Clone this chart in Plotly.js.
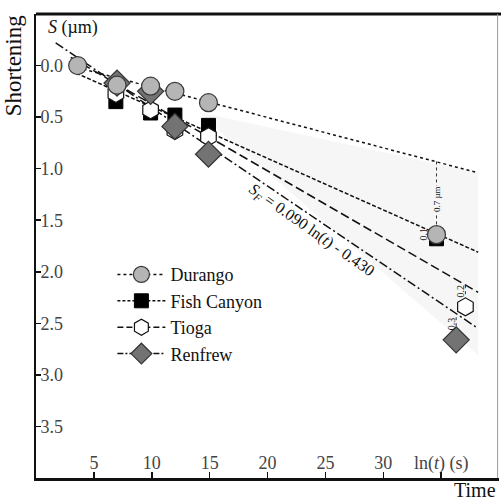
<!DOCTYPE html>
<html>
<head>
<meta charset="utf-8">
<script src="https://cdn.plot.ly/plotly-3.0.1.min.js"></script>
<style>
  html, body { margin: 0; padding: 0; background: #fff; }
  #chart { width: 501px; height: 502px; }
</style>
</head>
<body>
<div id="chart"></div>
<script>
// Shortening S (µm) versus ln(t) for four apatite samples
const durangoX = [3.6, 7.0, 9.9, 12.0, 14.9, 34.6];
const durangoY = [0.0, 0.19, 0.20, 0.25, 0.36, 1.64];
const fishX = [6.9, 9.9, 12.0, 14.9, 34.6];
const fishY = [0.35, 0.46, 0.48, 0.58, 1.68];
const tiogaX = [6.9, 9.9, 12.0, 14.9, 37.1];
const tiogaY = [0.27, 0.43, 0.63, 0.69, 2.34];
const renfrewX = [7.0, 9.9, 12.0, 14.9, 36.3];
const renfrewY = [0.17, 0.25, 0.59, 0.86, 2.66];

// Fitted trend lines (end points)
const durangoFitX = [3.6, 38.2], durangoFitY = [0.02, 1.04];
const fishFitX = [3.0, 38.2], fishFitY = [0.05, 1.81];
const tiogaFitX = [3.0, 38.2], tiogaFitY = [-0.08, 2.20];
const renfrewFitX = [1.7, 38.2], renfrewFitY = [-0.22, 2.55];

// Envelope of the extrapolated trends
const bandX = [14.0, 38.2, 38.2, 14.0];
const bandY = [0.45, 1.04, 2.81, 0.45];

// Offsets between the extrapolated trend and the long-time measurement
const offsetX = [34.6, 37.1, 36.3];
const offsetFrom = [0.93, 2.13, 2.44];
const offsetTo = [1.56, 2.25, 2.58];

const xTickVals = [5, 10, 15, 20, 25, 30, 35];
const xTickText = ['5', '10', '15', '20', '25', '30', 'ln(<i>t</i>) (s)'];
const yTickVals = [0, 0.5, 1, 1.5, 2, 2.5, 3, 3.5];

const FONT = 'Liberation Serif, Times New Roman, serif';
const BAND = '#f6f6f6';

const traces = [];
traces.push({x: bandX, y: bandY, mode: 'lines', fill: 'toself', fillcolor: BAND,
  line: {width: 0}, hoverinfo: 'skip', showlegend: false});

const lineStyle = [
  [durangoFitX, durangoFitY, 'dot'],
  [fishFitX, fishFitY, '4px,2px'],
  [tiogaFitX, tiogaFitY, '9px,4px'],
  [renfrewFitX, renfrewFitY, '9px,3px,2px,3px']
];
lineStyle.forEach(([x, y, d]) => traces.push({x, y, mode: 'lines',
  line: {color: '#111', width: 1.5, dash: d}, showlegend: false, hoverinfo: 'skip'}));

offsetX.forEach((x, i) => traces.push({x: [x, x], y: [offsetFrom[i], offsetTo[i]], mode: 'lines',
  line: {color: '#333', width: 1, dash: 'dot'}, showlegend: false, hoverinfo: 'skip'}));

const mk = {
  durango: {symbol: 'circle', size: 18, color: '#b5b5b5', line: {color: '#3a3a3a', width: 1.2}},
  fish: {symbol: 'square', size: 14, color: '#000', line: {color: '#000', width: 1}},
  tioga: {symbol: 'hexagon', size: 18, color: '#fff', line: {color: '#111', width: 1.2}},
  renfrew: {symbol: 'diamond', size: 20, color: '#737373', line: {color: '#333', width: 1.2}}
};

// markers drawn bottom to top
traces.push({x: fishX, y: fishY, mode: 'markers', marker: mk.fish, showlegend: false});
traces.push({x: tiogaX, y: tiogaY, mode: 'markers', marker: mk.tioga, showlegend: false});
traces.push({x: renfrewX, y: renfrewY, mode: 'markers', marker: mk.renfrew, showlegend: false});
traces.push({x: durangoX, y: durangoY, mode: 'markers', marker: mk.durango, showlegend: false});

// legend entries
[['Durango', mk.durango, 'dot'], ['Fish Canyon', mk.fish, '3px,2px'],
 ['Tioga', mk.tioga, '6px,3px'], ['Renfrew', mk.renfrew, '6px,2px,2px,2px']]
 .forEach(([name, m, d]) => traces.push({x: [null], y: [null], name, mode: 'lines+markers',
   marker: m, line: {color: '#111', width: 1.5, dash: d}}));

const layout = {
  width: 501, height: 502,
  margin: {l: 36, r: 2, t: 14, b: 24},
  paper_bgcolor: '#fff', plot_bgcolor: '#fff',
  font: {family: FONT, color: '#111', size: 18},
  showlegend: true,
  legend: {x: 0.165, y: 0.478, xanchor: 'left', yanchor: 'top', bgcolor: 'rgba(0,0,0,0)',
    font: {family: FONT, size: 18}, itemwidth: 48, tracegroupgap: 0},
  xaxis: {range: [0, 40], tickvals: xTickVals, ticktext: xTickText, ticks: 'inside', ticklen: 6,
    tickwidth: 1.5, tickcolor: '#111', ticklabelposition: 'inside', showline: true, linewidth: 2.5,
    linecolor: '#111', showgrid: false, zeroline: false, tickfont: {family: FONT, size: 18}},
  yaxis: {range: [4.0, -0.5], tickvals: yTickVals, tickformat: '.1f', ticks: 'inside', ticklen: 5,
    tickwidth: 1.5, tickcolor: '#111', ticklabelposition: 'inside', showline: true, linewidth: 2.5,
    linecolor: '#111', showgrid: false, zeroline: false, tickfont: {family: FONT, size: 18}},
  shapes: [
    {type: 'line', xref: 'paper', yref: 'paper', x0: 0, x1: 1.005, y0: 1, y1: 1,
      line: {color: '#111', width: 3}},
    {type: 'line', xref: 'paper', yref: 'paper', x0: 0.997, x1: 0.997, y0: 0, y1: 1,
      line: {color: '#999', width: 1}}
  ],
  annotations: [
    {text: 'Shortening', xref: 'paper', yref: 'paper', x: -0.047, y: 0.888, textangle: -90,
      showarrow: false, font: {family: FONT, size: 23}, xanchor: 'center', yanchor: 'middle'},
    {text: '<i>S</i> (µm)', xref: 'paper', yref: 'paper', x: 0.022, y: 0.97,
      showarrow: false, font: {family: FONT, size: 18}, xanchor: 'left', yanchor: 'middle'},
    {text: 'Time', xref: 'paper', yref: 'paper', x: 0.997, y: -0.026,
      showarrow: false, font: {family: FONT, size: 20}, xanchor: 'right', yanchor: 'middle'},
    {text: '<i>S<sub>F</sub></i> = 0.090 ln(<i>t</i>) - 0.430', x: 23.8, y: 1.60, textangle: 35,
      showarrow: false, font: {family: FONT, size: 16}},
    {text: '0.7 µm', x: 34.6, y: 1.30, textangle: -90, showarrow: false, bgcolor: BAND,
      font: {family: FONT, size: 9}, borderpad: 0},
    {text: '0.1', x: 33.5, y: 1.63, textangle: -90, showarrow: false, font: {family: FONT, size: 10}},
    {text: '0.2', x: 36.65, y: 2.19, textangle: -90, showarrow: false, font: {family: FONT, size: 10}},
    {text: '0.3', x: 35.85, y: 2.50, textangle: -90, showarrow: false, font: {family: FONT, size: 10}}
  ]
};

Plotly.newPlot('chart', traces, layout, {displayModeBar: false, staticPlot: true});
</script>
</body>
</html>
